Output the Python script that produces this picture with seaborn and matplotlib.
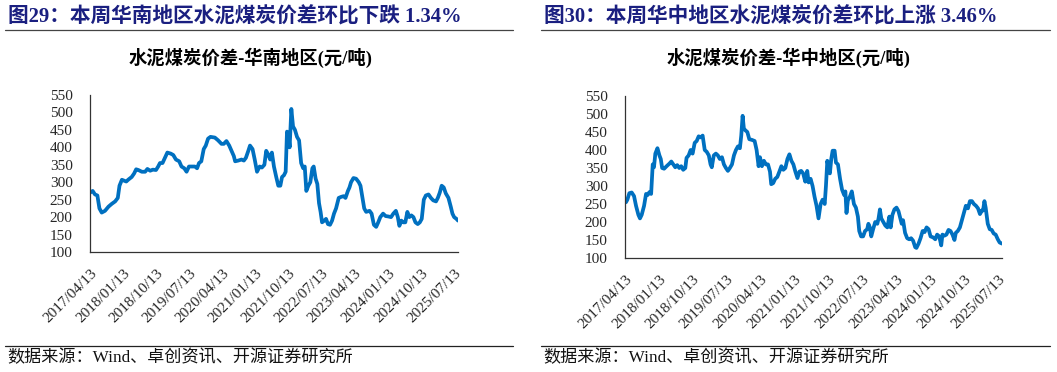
import matplotlib
matplotlib.use("Agg")
import matplotlib.pyplot as plt
import matplotlib.transforms as mtransforms
import pandas as pd
import seaborn as sns

# ---------------- data ----------------
south_dates = [
    "2017-04-13", "2017-05-05", "2017-05-24", "2017-06-13", "2017-06-30", "2017-07-19", "2017-08-15",
    "2017-09-13", "2017-10-10", "2017-11-07", "2017-11-29", "2017-12-13", "2018-01-02",
    "2018-01-16", "2018-02-07", "2018-02-26", "2018-03-24", "2018-04-13", "2018-04-30", "2018-05-18",
    "2018-06-16", "2018-07-13", "2018-08-01", "2018-08-24", "2018-09-15", "2018-10-11",
    "2018-10-29", "2018-11-13", "2018-12-04", "2018-12-24", "2019-01-13", "2019-02-10", "2019-03-03",
    "2019-03-25", "2019-04-21", "2019-05-10", "2019-06-02", "2019-06-21", "2019-07-11",
    "2019-08-06", "2019-08-29", "2019-09-16", "2019-10-02", "2019-10-21", "2019-11-10", "2019-11-27",
    "2019-12-16", "2020-01-05", "2020-02-10", "2020-03-08", "2020-04-05",
    "2020-04-24", "2020-05-16", "2020-06-08", "2020-06-27", "2020-07-16", "2020-07-27", "2020-08-21",
    "2020-09-18", "2020-10-07", "2020-10-24", "2020-11-13", "2020-11-27", "2020-12-18", "2021-01-05",
    "2021-01-24", "2021-02-15", "2021-03-05", "2021-03-26", "2021-04-10", "2021-04-26", "2021-05-13",
    "2021-05-27", "2021-06-13", "2021-07-02", "2021-07-19", "2021-08-05", "2021-08-19", "2021-09-04",
    "2021-09-18", "2021-09-29", "2021-10-10",
    "2021-10-21", "2021-11-04", "2021-11-18", "2021-12-04", "2021-12-21", "2022-01-07", "2022-01-24",
    "2022-02-10", "2022-02-23", "2022-03-08", "2022-03-25", "2022-04-10", "2022-04-27", "2022-05-08",
    "2022-05-24", "2022-06-07", "2022-06-21", "2022-07-04",
    "2022-07-16", "2022-08-04", "2022-08-18", "2022-09-03", "2022-09-20", "2022-10-07", "2022-10-23",
    "2022-11-09", "2022-12-01", "2022-12-21", "2023-01-10", "2023-01-26", "2023-02-15", "2023-02-28",
    "2023-03-13", "2023-04-02",
    "2023-04-24", "2023-05-16", "2023-05-30", "2023-06-13", "2023-06-30", "2023-07-16", "2023-08-13",
    "2023-08-30", "2023-09-18", "2023-10-07", "2023-10-24", "2023-11-10", "2023-12-03", "2023-12-24",
    "2024-01-13", "2024-02-07", "2024-02-26", "2024-03-18", "2024-04-03", "2024-04-16", "2024-05-02",
    "2024-05-18", "2024-06-04", "2024-06-21", "2024-07-07", "2024-07-24", "2024-08-10", "2024-08-27",
    "2024-09-15", "2024-10-02",
    "2024-10-18", "2024-11-04", "2024-11-21", "2024-12-13", "2025-01-02", "2025-01-21", "2025-02-13",
    "2025-02-28", "2025-03-16", "2025-04-01", "2025-04-18", "2025-05-05", "2025-05-27", "2025-06-15",
    "2025-06-29", "2025-07-13", "2025-08-01", "2025-08-14",
]
south_values = [
    270, 275, 265, 262, 225, 213, 218, 230, 238, 245, 255, 290, 307,
    305, 302, 308, 315, 325, 337, 335, 330, 330, 338, 333, 336, 335,
    345, 355, 355, 370, 385, 382, 378, 365, 360, 345, 340, 330, 345,
    345, 345, 340, 355, 360, 395, 405, 425, 430, 428, 420, 410,
    410, 418, 405, 390, 375, 360, 362, 365, 362, 370, 390, 405, 395, 365,
    330, 345, 342, 350, 390, 380, 365, 385, 345, 315, 290, 290, 315, 320,
    330, 445, 440,
    400, 510, 460, 450, 430, 420, 355, 340, 345, 275, 290, 300, 340, 345,
    310, 295, 240, 215,
    185, 190, 195, 180, 178, 190, 210, 225, 255, 258, 260, 255, 275, 285,
    300, 312,
    310, 300, 290, 260, 225, 215, 218, 210, 178, 172, 185, 200, 210, 203,
    202, 200, 210, 218, 200, 175, 190, 185, 185, 215, 200, 205, 200, 185,
    180, 185,
    195, 250, 262, 265, 255, 248, 245, 255, 270, 290, 285, 268, 255, 230,
    210, 200, 195, 190,
]

central_dates = [
    "2017-04-13", "2017-04-21", "2017-05-02", "2017-05-18", "2017-06-06", "2017-06-25", "2017-07-11",
    "2017-07-30", "2017-08-12", "2017-08-26", "2017-09-14", "2017-09-30", "2017-10-13", "2017-10-27",
    "2017-11-10", "2017-11-23", "2017-12-03", "2017-12-14", "2017-12-31",
    "2018-01-16", "2018-01-27", "2018-02-07", "2018-02-23", "2018-03-15", "2018-04-06", "2018-04-22",
    "2018-05-08", "2018-05-24", "2018-06-09", "2018-06-25", "2018-07-11", "2018-07-27", "2018-08-13",
    "2018-08-23", "2018-09-09", "2018-09-25", "2018-10-11",
    "2018-10-28", "2018-11-13", "2018-11-29", "2018-12-15", "2018-12-31", "2019-01-17", "2019-02-02",
    "2019-02-19", "2019-03-05", "2019-03-15", "2019-03-31", "2019-04-17", "2019-05-03", "2019-05-19",
    "2019-06-05", "2019-06-21", "2019-07-07",
    "2019-07-23", "2019-08-08", "2019-08-25", "2019-09-10", "2019-09-26", "2019-10-12", "2019-10-28",
    "2019-11-08", "2019-11-19", "2019-11-29", "2019-12-10", "2019-12-27", "2020-01-12", "2020-02-03",
    "2020-02-24", "2020-03-11", "2020-03-27", "2020-04-07",
    "2020-04-23", "2020-05-09", "2020-05-25", "2020-06-11", "2020-06-27", "2020-07-07", "2020-07-23",
    "2020-08-08", "2020-08-25", "2020-09-11", "2020-09-27", "2020-10-13", "2020-10-29", "2020-11-15",
    "2020-12-01", "2020-12-17", "2021-01-02",
    "2021-01-18", "2021-02-04", "2021-02-20", "2021-03-06", "2021-03-22", "2021-04-08", "2021-04-24",
    "2021-05-05", "2021-05-21", "2021-06-06", "2021-06-22", "2021-07-08", "2021-07-24", "2021-08-10",
    "2021-08-26", "2021-09-12", "2021-09-22", "2021-10-03",
    "2021-10-14", "2021-10-24", "2021-11-04", "2021-11-15", "2021-12-01", "2021-12-12", "2021-12-28",
    "2022-01-14", "2022-01-30", "2022-02-16", "2022-02-26", "2022-03-07", "2022-03-18", "2022-04-03",
    "2022-04-19", "2022-05-06", "2022-05-22", "2022-06-07", "2022-06-18", "2022-07-03",
    "2022-07-19", "2022-08-04", "2022-08-21", "2022-08-31", "2022-09-12", "2022-09-23", "2022-10-08",
    "2022-10-25", "2022-11-11", "2022-11-21", "2022-12-02", "2022-12-13", "2022-12-29", "2023-01-15",
    "2023-01-31", "2023-02-16", "2023-02-27", "2023-03-13", "2023-03-29",
    "2023-04-15", "2023-05-01", "2023-05-16", "2023-05-27", "2023-06-07", "2023-06-23", "2023-07-10",
    "2023-07-26", "2023-08-11", "2023-08-27", "2023-09-13", "2023-09-23", "2023-10-10", "2023-10-26",
    "2023-11-12", "2023-11-28", "2023-12-14", "2023-12-30",
    "2024-01-15", "2024-02-06", "2024-02-22", "2024-03-08", "2024-03-25", "2024-04-10", "2024-04-20",
    "2024-05-06", "2024-05-22", "2024-06-08", "2024-06-24", "2024-07-10", "2024-07-26", "2024-08-06",
    "2024-08-22", "2024-09-08", "2024-09-24",
    "2024-10-10", "2024-10-26", "2024-11-12", "2024-11-28", "2024-12-14", "2024-12-30", "2025-01-16",
    "2025-02-01", "2025-02-17", "2025-03-05", "2025-03-14", "2025-03-25", "2025-04-04", "2025-04-21",
    "2025-05-07", "2025-05-23", "2025-06-08", "2025-06-24", "2025-07-11", "2025-07-26", "2025-08-14",
]
central_values = [
    255, 255, 262, 280, 282, 272, 245, 220, 210, 220, 245, 278, 275, 283,
    278, 360, 352, 390, 405,
    385, 375, 350, 348, 355, 362, 368, 360, 352, 358, 350, 355, 345, 350,
    378, 385, 400, 390,
    420, 425, 438, 435, 440, 400, 395, 385, 360, 352, 385, 390, 385, 375,
    380, 360, 350,
    342, 350, 360, 385, 400, 410, 405, 440, 495, 460, 455, 450, 430, 428,
    425, 400, 355, 380,
    355, 370, 360, 360, 340, 305, 308, 320, 325, 340, 355, 345, 350, 375,
    388, 370, 360,
    340, 322, 340, 342, 335, 312, 342, 310, 320, 300, 270, 245, 210, 250,
    262, 250, 300, 370,
    350, 335, 375, 398, 398, 365, 360, 320, 290, 275, 285, 225, 260, 270,
    285, 250, 240, 215, 175, 160,
    160, 175, 180, 195, 185, 160, 180, 200, 195, 210, 235, 210, 200, 190,
    185, 215, 185, 220, 235,
    240, 230, 210, 195, 205, 170, 155, 152, 155, 148, 130, 128, 140, 155,
    175, 172, 185, 180,
    160, 157, 152, 165, 160, 135, 165, 162, 165, 178, 175, 165, 150, 170,
    175, 185, 205,
    225, 245, 238, 258, 258, 250, 245, 238, 222, 232, 232, 258, 240, 195,
    180, 178, 168, 165, 152, 143, 140,
]

tick_labels = ["2017/04/13", "2018/01/13", "2018/10/13", "2019/07/13", "2020/04/13",
               "2021/01/13", "2021/10/13", "2022/07/13", "2023/04/13", "2024/01/13",
               "2024/10/13", "2025/07/13"]
y_ticks = [100, 150, 200, 250, 300, 350, 400, 450, 500, 550]

fig_titles = ["图29：本周华南地区水泥煤炭价差环比下跌 1.34%",
              "图30：本周华中地区水泥煤炭价差环比上涨 3.46%"]
chart_titles = ["水泥煤炭价差-华南地区(元/吨)", "水泥煤炭价差-华中地区(元/吨)"]
source_text = "数据来源：Wind、卓创资讯、开源证券研究所"

# ---------------- style ----------------
sns.set_theme(style="white")
FAM = ["Liberation Serif", "Noto Sans CJK SC"]
plt.rcParams["font.family"] = FAM
plt.rcParams["axes.unicode_minus"] = False

LINE_COLOR = "#0070C0"
TITLE_COLOR = "#1A1F80"

W, H = 1057, 372
fig = plt.figure(figsize=(W / 100, H / 100), dpi=100)
fig.patch.set_facecolor("white")


def fx(px):
    return px / W


def fy(py):
    return 1 - py / H


panels = [
    dict(dates=south_dates, values=south_values, ax=(90, 458, 95, 252), x0=5, x1=513, tx=251),
    dict(dates=central_dates, values=central_values, ax=(625, 1002, 96, 258), x0=541, x1=1050, tx=789),
]

tick_dates = pd.to_datetime(tick_labels, format="%Y/%m/%d")
shift = mtransforms.ScaledTranslation(-3 / 72, 0, fig.dpi_scale_trans)

for i, p in enumerate(panels):
    l, r, t, b = p["ax"]
    ax = fig.add_axes([fx(l), fy(b), fx(r - l), fy(t) - fy(b)])
    df = pd.DataFrame({"date": pd.to_datetime(p["dates"]), "value": p["values"]})
    sns.lineplot(data=df, x="date", y="value", ax=ax, color=LINE_COLOR, linewidth=2.7)
    ax.set_xlim(df["date"].min(), df["date"].max())
    ax.set_ylim(100, 550)
    ax.set_yticks(y_ticks)
    ax.set_yticklabels([str(v) for v in y_ticks], fontsize=11, family=FAM)
    ax.set_xticks(tick_dates)
    ax.set_xticklabels(tick_labels, rotation=45, ha="right", rotation_mode="anchor",
                       fontsize=11, family=FAM)
    for lab in ax.get_xticklabels():
        lab.set_transform(lab.get_transform() + shift)
    ax.set_xlabel("")
    ax.set_ylabel("")
    for s in ["top", "right"]:
        ax.spines[s].set_visible(False)
    for s in ["left", "bottom"]:
        ax.spines[s].set_color("#333333")
        ax.spines[s].set_linewidth(0.9)
    ax.tick_params(axis="x", direction="in", length=4, width=0.8, color="#333333", pad=11)
    ax.tick_params(axis="y", length=0, pad=12.5)
    ax.set_facecolor("white")
    ax.grid(False)

    # figure title
    fig.text(fx(p["x0"] + 3), fy(17), fig_titles[i], fontsize=14.9, fontweight="bold",
             color=TITLE_COLOR, family=FAM, va="center", ha="left")
    fig.add_artist(plt.Line2D([fx(p["x0"]), fx(p["x1"])], [fy(29.5), fy(29.5)],
                              color="#444444", linewidth=0.9))
    # chart title
    fig.text(fx(p["tx"]), fy(58), chart_titles[i], fontsize=13.2, fontweight="bold",
             color="black", family=FAM, va="center", ha="center")
    # source
    fig.add_artist(plt.Line2D([fx(p["x0"]), fx(p["x1"])], [fy(346), fy(346)],
                              color="#222222", linewidth=0.9))
    fig.text(fx(p["x0"] + 2), fy(358), source_text, fontsize=12.3, color="#111111",
             family=FAM, va="center", ha="left")

fig.savefig("out.png", dpi=100, facecolor="white")
